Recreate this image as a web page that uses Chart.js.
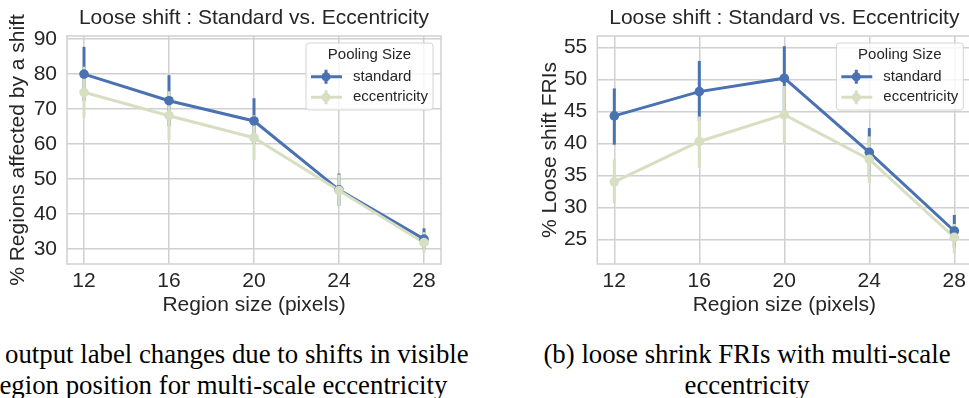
<!DOCTYPE html>
<html>
<head>
<meta charset="utf-8">
<script src="https://cdn.jsdelivr.net/npm/chart.js@4.4.1/dist/chart.umd.min.js"></script>
<style>
  html, body { margin: 0; padding: 0; background: #fff; overflow: hidden; }
  #page { position: relative; width: 969px; height: 398px; overflow: hidden; }
  canvas { position: absolute; top: 0; }
  #shiftChart { left: 0; }
  #friChart { left: 490px; }
  .caption {
    position: absolute;
    font-family: "Liberation Serif", "Times New Roman", serif;
    font-size: 26.8px;
    line-height: 31px;
    color: #000;
    white-space: nowrap;
  }
</style>
</head>
<body>
<div id="page">
  <canvas id="shiftChart" width="480" height="318"></canvas>
  <canvas id="friChart" width="500" height="318"></canvas>
  <div class="caption" style="left:5px; top:339px;">output label changes due to shifts in visible</div>
  <div class="caption" style="left:-9.5px; top:370px;">region position for multi-scale eccentricity</div>
  <div class="caption" style="left:497px; top:339px; width:500px; text-align:center;">(b) loose shrink FRIs with multi-scale<br>eccentricity</div>
</div>
<script>
const regionSizes = [12, 16, 20, 24, 28];

// % regions affected by a shift
const affectedStandard   = [80.0, 72.4, 66.6, 46.9, 32.8];
const affectedStandardLo = [72.3, 65.1, 60.0, 42.3, 29.9];
const affectedStandardHi = [87.8, 79.7, 73.1, 51.6, 35.9];
const affectedEcc        = [74.8, 68.1, 61.8, 46.7, 31.8];
const affectedEccLo      = [67.4, 61.1, 55.4, 42.3, 28.8];
const affectedEccHi      = [82.1, 75.1, 68.2, 51.3, 34.8];
const affectedTicks      = [30, 40, 50, 60, 70, 80, 90];

// % loose shift FRIs
const friStandard   = [44.3, 48.1, 50.2, 38.6, 26.3];
const friStandardLo = [39.8, 43.5, 45.2, 34.8, 23.7];
const friStandardHi = [48.6, 52.9, 55.2, 42.4, 28.8];
const friEcc        = [34.0, 40.3, 44.5, 37.5, 25.3];
const friEccLo      = [30.6, 36.2, 40.0, 33.8, 22.8];
const friEccHi      = [37.5, 44.2, 49.0, 41.1, 27.4];
const friTicks      = [25, 30, 35, 40, 45, 50, 55];

const BLUE = "#4a71b1";
const SAGE = "#d7dfc3";
const TEXT = "#262626";
const GRID = "#d0d0d0";

Chart.defaults.font.family = "'Liberation Sans', Arial, sans-serif";
Chart.defaults.color = TEXT;

function pointPlot(canvas, cfg) {
    const series = [
        { label: "standard", color: BLUE, values: cfg.standard, lo: cfg.standardLo, hi: cfg.standardHi },
        { label: "eccentricity", color: SAGE, values: cfg.ecc, lo: cfg.eccLo, hi: cfg.eccHi }
    ];
    const toXY = vals => regionSizes.map((x, i) => ({ x, y: vals[i] }));

    // frame round the plot area + confidence bars under the lines
    const frameAndBars = {
        id: "frameAndBars",
        beforeDatasetsDraw(chart) {
            const { ctx, chartArea: a, scales } = chart;
            ctx.save();
            ctx.strokeStyle = GRID;
            ctx.lineWidth = 1.5;
            ctx.strokeRect(a.left, a.top, a.right - a.left, a.bottom - a.top);

            ctx.lineWidth = 3;
            ctx.lineCap = "butt";
            series.forEach(s => {
                ctx.strokeStyle = s.color;
                regionSizes.forEach((r, i) => {
                    const x = scales.x.getPixelForValue(r);
                    ctx.beginPath();
                    ctx.moveTo(x, scales.y.getPixelForValue(s.lo[i]));
                    ctx.lineTo(x, scales.y.getPixelForValue(s.hi[i]));
                    ctx.stroke();
                });
            });
            ctx.restore();
        }
    };

    const legendBox = {
        id: "legendBox",
        afterDatasetsDraw(chart) {
            const { ctx, chartArea: a } = chart;
            const w = 127, h = 67;
            const left = a.right - 8 - w, top = a.top + 7;
            ctx.save();
            ctx.beginPath();
            ctx.roundRect(left, top, w, h, 3);
            ctx.fillStyle = "rgba(255,255,255,0.8)";
            ctx.fill();
            ctx.strokeStyle = "#d4d4d4";
            ctx.lineWidth = 1;
            ctx.stroke();

            ctx.font = "15px 'Liberation Sans', Arial, sans-serif";
            ctx.fillStyle = TEXT;
            ctx.textBaseline = "middle";
            ctx.textAlign = "center";
            ctx.fillText("Pooling Size", left + w / 2, top + 11.5);

            ctx.textAlign = "left";
            series.forEach((s, i) => {
                const y = top + 33.7 + i * 20.6;
                const mx = left + 20;
                ctx.strokeStyle = s.color;
                ctx.fillStyle = s.color;
                ctx.lineWidth = 3;
                ctx.beginPath();
                ctx.moveTo(left + 5, y);
                ctx.lineTo(left + 36, y);
                ctx.moveTo(mx, y - 7);
                ctx.lineTo(mx, y + 7);
                ctx.stroke();
                ctx.beginPath();
                ctx.arc(mx, y, 4.5, 0, Math.PI * 2);
                ctx.fill();
                ctx.fillStyle = TEXT;
                ctx.fillText(s.label, left + 47, y);
            });
            ctx.restore();
        }
    };

    const lineSet = (s, order) => ({
        label: s.label,
        data: toXY(s.values),
        borderColor: s.color,
        borderWidth: 3,
        pointRadius: 0,
        fill: false,
        tension: 0,
        order
    });
    const markerSet = (s, order) => ({
        label: s.label + " markers",
        data: toXY(s.values),
        showLine: false,
        pointRadius: 4.8,
        pointBackgroundColor: s.color,
        pointBorderWidth: 0,
        order
    });

    return new Chart(canvas, {
        type: "line",
        data: {
            datasets: [
                lineSet(series[0], 4),
                lineSet(series[1], 3),
                markerSet(series[0], 2),
                markerSet(series[1], 1)
            ]
        },
        options: {
            responsive: false,
            animation: false,
            events: [],
            layout: { padding: { left: 0, top: 0, bottom: 0, right: cfg.padRight } },
            plugins: {
                legend: { display: false },
                tooltip: { enabled: false },
                title: {
                    display: true,
                    text: "Loose shift : Standard vs. Eccentricity",
                    fullSize: false,
                    color: TEXT,
                    font: { size: 21, weight: "normal" },
                    padding: { top: 6, bottom: 4.8 }
                }
            },
            scales: {
                x: {
                    type: "linear",
                    min: 11.2,
                    max: 28.8,
                    afterBuildTicks: s => { s.ticks = regionSizes.map(v => ({ value: v })); },
                    afterFit: s => { s.height = 54; },
                    grid: { color: GRID, lineWidth: 1.5, drawTicks: false },
                    border: { display: false },
                    ticks: { font: { size: 21 }, color: TEXT, padding: 5 },
                    title: {
                        display: true,
                        text: "Region size (pixels)",
                        font: { size: 21 },
                        color: TEXT,
                        padding: { top: 0, bottom: 0 }
                    }
                },
                y: {
                    min: cfg.yMin,
                    max: cfg.yMax,
                    afterBuildTicks: s => { s.ticks = cfg.yTicks.map(v => ({ value: v })); },
                    afterFit: s => { s.width = cfg.axisWidth; },
                    grid: { color: GRID, lineWidth: 1.5, drawTicks: false },
                    border: { display: false },
                    ticks: { font: { size: 21 }, color: TEXT, padding: 10 },
                    title: {
                        display: true,
                        text: cfg.yTitle,
                        font: { size: 21 },
                        color: TEXT,
                        padding: { top: cfg.titlePad, bottom: 0 }
                    }
                }
            }
        },
        plugins: [frameAndBars, legendBox]
    });
}

pointPlot(document.getElementById("shiftChart"), {
    standard: affectedStandard, standardLo: affectedStandardLo, standardHi: affectedStandardHi,
    ecc: affectedEcc, eccLo: affectedEccLo, eccHi: affectedEccHi,
    yTicks: affectedTicks, yMin: 25.7, yMax: 90.9,
    yTitle: "% Regions affected by a shift",
    axisWidth: 67, titlePad: 5.4, padRight: 39
});

pointPlot(document.getElementById("friChart"), {
    standard: friStandard, standardLo: friStandardLo, standardHi: friStandardHi,
    ecc: friEcc, eccLo: friEccLo, eccHi: friEccHi,
    yTicks: friTicks, yMin: 21.14, yMax: 56.8,
    yTitle: "% Loose shift FRIs",
    axisWidth: 107.3, titlePad: 47.4, padRight: 18.7
});
</script>
</body>
</html>
